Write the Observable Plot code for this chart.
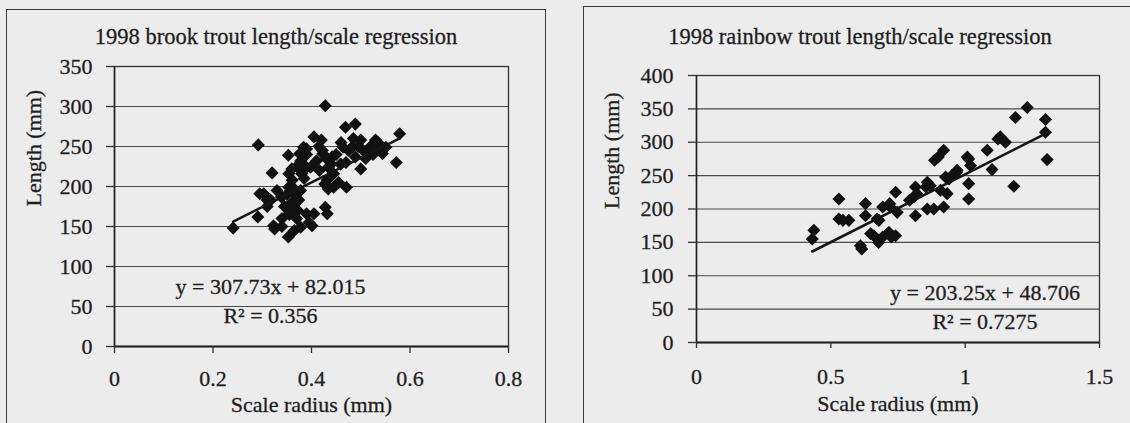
<!DOCTYPE html>
<html>
<head>
<meta charset="utf-8">
<script src="https://cdn.jsdelivr.net/npm/d3@7"></script>
<script src="https://cdn.jsdelivr.net/npm/@observablehq/plot@0.6"></script>
<style>
  html, body { margin: 0; padding: 0; background: #ececec; }
  body {
    width: 1130px; height: 423px; overflow: hidden; position: relative;
    font-family: "Liberation Serif", "Times New Roman", serif; color: #1e1e1e;
  }
  .frame { position: absolute; border: 1.5px solid #3a3a3a; box-sizing: border-box; }
  .title {
    position: absolute; text-align: center; font-size: 22.5px; line-height: 1;
    white-space: nowrap; -webkit-text-stroke: 0.3px #1e1e1e;
  }
  .chart { position: absolute; }
  .chart svg { display: block; }
  .chart svg text { stroke: #1e1e1e; stroke-width: 0.3px; }
</style>
</head>
<body>
<div class="frame" style="left:6px; top:9px; width:540px; height:440px;"></div>
<div class="title" style="left:6px; top:26px; width:540px;">1998 brook trout length/scale regression</div>
<div class="chart" id="brook" style="left:7px; top:10px;"></div>

<div class="frame" style="left:583px; top:6px; width:554px; height:440px;"></div>
<div class="title" style="left:583px; top:26px; width:554px;">1998 rainbow trout length/scale regression</div>
<div class="chart" id="rainbow" style="left:584px; top:7px;"></div>

<script>
// Brook trout: scale radius (mm) and fork length (mm)
const brookRadius = [
  0.428, 0.292, 0.241, 0.291, 0.320, 0.353, 0.353, 0.405, 0.469, 0.303,
  0.317, 0.323, 0.340, 0.378, 0.401, 0.405, 0.428, 0.432, 0.361, 0.374,
  0.372, 0.378, 0.384, 0.378, 0.398, 0.422, 0.432, 0.445, 0.459, 0.579,
  0.572, 0.489, 0.500, 0.471, 0.537, 0.515, 0.500, 0.530, 0.482, 0.464,
  0.489, 0.434, 0.442, 0.423, 0.420, 0.427, 0.434, 0.390, 0.325, 0.376,
  0.390, 0.295, 0.310, 0.354, 0.354, 0.365, 0.365, 0.354, 0.339, 0.380,
  0.390, 0.445, 0.455, 0.416, 0.551, 0.544, 0.360, 0.370, 0.345, 0.350,
  0.360, 0.385, 0.390, 0.410, 0.440, 0.450, 0.460, 0.475, 0.485, 0.495,
  0.505, 0.520, 0.525, 0.535, 0.540, 0.510, 0.470, 0.430, 0.415, 0.370,
  0.360, 0.355, 0.340, 0.330, 0.310, 0.395, 0.365
];
const brookLength = [
  301, 252, 148, 162, 217, 137, 239, 262, 274, 191,
  183, 151, 160, 149, 151, 166, 174, 166, 208, 183,
  170, 195, 249, 232, 224, 245, 208, 199, 228, 266,
  230, 278, 222, 199, 249, 241, 258, 258, 249, 249,
  237, 224, 237, 241, 258, 203, 197, 166, 147, 241,
  247, 191, 183, 216, 199, 191, 174, 166, 187, 216,
  224, 216, 205, 220, 249, 241, 180, 160, 175, 190,
  200, 210, 240, 232, 228, 240, 255, 245, 260, 250,
  245, 250, 240, 255, 245, 235, 230, 235, 250, 225,
  222, 165, 150, 195, 175, 155, 145
];

// Rainbow trout: scale radius (mm) and fork length (mm)
const rainbowRadius = [
  1.231, 1.187, 1.299, 1.299, 1.305, 1.181, 1.131, 1.150, 1.082, 1.100,
  1.013, 1.020, 1.013, 1.013, 0.970, 0.927, 0.920, 0.886, 0.933, 0.908,
  0.920, 0.883, 0.859, 0.859, 0.815, 0.809, 0.815, 0.741, 0.722, 0.747,
  0.672, 0.629, 0.629, 0.648, 0.678, 0.716, 0.741, 0.610, 0.530, 0.530,
  0.567, 0.437, 0.431, 0.793, 0.820, 0.854, 0.870, 0.719, 0.693, 0.679,
  0.660, 0.693, 0.725, 0.615, 0.545, 0.900, 1.122, 1.008, 0.968, 0.950,
  0.940
];
const rainbowLength = [
  352, 337, 334, 315, 274, 234, 308, 300, 288, 259,
  275, 265, 238, 215, 258, 248, 288, 273, 223, 228,
  203, 200, 200, 240, 233, 218, 190, 225, 203, 195,
  185, 208, 190, 163, 150, 165, 160, 145, 215, 185,
  183, 168, 155, 213, 223, 233, 235, 208, 203, 183,
  160, 158, 158, 140, 183, 278, 305, 278, 255, 250,
  245
];

// Axis ticks and their printed labels
const brookXTicks = [0, 0.2, 0.4, 0.6, 0.8];
const brookXTickLabels = ["0", "0.2", "0.4", "0.6", "0.8"];
const brookYTicks = [0, 50, 100, 150, 200, 250, 300, 350];
const rainbowXTicks = [0, 0.5, 1, 1.5];
const rainbowXTickLabels = ["0", "0.5", "1", "1.5"];
const rainbowYTicks = [0, 50, 100, 150, 200, 250, 300, 350, 400];

// Least-squares trend lines as reported on each chart
const brookFit = {slope: 307.73, intercept: 82.015, r2: "0.356"};
const rainbowFit = {slope: 203.25, intercept: 48.706, r2: "0.7275"};

const xLabel = "Scale radius (mm)";
const yLabel = "Length (mm)";

function regressionPanel(cfg) {
  const pts = cfg.radius.map((r, i) => ({radius: r, length: cfg.length[i]}));
  const [x0, x1] = d3.extent(cfg.radius);
  const trend = [x0, x1].map(r => ({radius: r, length: cfg.fit.slope * r + cfg.fit.intercept}));
  const eq = `y = ${cfg.fit.slope}x + ${cfg.fit.intercept}\nR² = ${cfg.fit.r2}`;
  const xFmt = v => cfg.xTickLabels[cfg.xTicks.indexOf(v)];
  return Plot.plot({
    width: cfg.width,
    height: cfg.height,
    marginLeft: cfg.ml,
    marginRight: cfg.mr,
    marginTop: cfg.mt,
    marginBottom: cfg.mb,
    style: {
      "background": "transparent",
      "font-family": "'Liberation Serif', 'Times New Roman', serif",
      "font-size": "22px",
      "color": "#1e1e1e",
      "overflow": "visible"
    },
    x: {domain: cfg.xDomain},
    y: {domain: cfg.yDomain},
    marks: [
      Plot.gridY(cfg.yTicks, {stroke: "#4a4a4a", strokeOpacity: 1, strokeWidth: 1.2}),
      Plot.frame({stroke: "#333", strokeWidth: 1.3}),
      Plot.ruleY([cfg.yDomain[0]], {stroke: "#222", strokeWidth: 2}),
      Plot.ruleX([cfg.xDomain[0]], {stroke: "#222", strokeWidth: 1.5}),
      Plot.axisY(cfg.yTicks, {tickSize: 8, tickPadding: cfg.yPad, label: null, stroke: "#333", strokeWidth: 1.3, fontSize: 22}),
      Plot.axisX(cfg.xTicks, {tickSize: cfg.xTick, tickPadding: cfg.xPad, label: null, stroke: "#333", strokeWidth: 1.3, fontSize: 22, tickFormat: xFmt}),
      Plot.dot(pts, {x: "radius", y: "length", symbol: "diamond2", r: 5.9, fill: "#111", stroke: "none"}),
      Plot.line(trend, {x: "radius", y: "length", stroke: "#151515", strokeWidth: 2.6}),
      Plot.text([eq], {frameAnchor: "bottom", lineAnchor: "middle", dx: cfg.eqDx, dy: cfg.eqDy, lineHeight: 1.33, fill: "#1e1e1e", fontSize: 22}),
      Plot.text([xLabel], {frameAnchor: "bottom", lineAnchor: "middle", dy: cfg.xLabelDy, fill: "#1e1e1e", fontSize: 22}),
      Plot.text([yLabel], {frameAnchor: "left", lineAnchor: "middle", rotate: -90, dx: cfg.yLabelDx, fill: "#1e1e1e", fontSize: 22})
    ]
  });
}

document.getElementById("brook").append(regressionPanel({
  radius: brookRadius, length: brookLength, fit: brookFit,
  xDomain: [0, 0.8], yDomain: [0, 350], xTicks: brookXTicks, xTickLabels: brookXTickLabels, yTicks: brookYTicks,
  width: 538, height: 413, ml: 107, mr: 37, mt: 56, mb: 77,
  yPad: 14, xTick: 7, xPad: 17, eqDx: -41, eqDy: -47, xLabelDy: 58, yLabelDx: -81
}));

document.getElementById("rainbow").append(regressionPanel({
  radius: rainbowRadius, length: rainbowLength, fit: rainbowFit,
  xDomain: [0, 1.5], yDomain: [0, 400], xTicks: rainbowXTicks, xTickLabels: rainbowXTickLabels, yTicks: rainbowYTicks,
  width: 546, height: 416, ml: 112, mr: 31, mt: 68, mb: 81,
  yPad: 15, xTick: 6, xPad: 20, eqDx: 87, eqDy: -37, xLabelDy: 61, yLabelDx: -85
}));
</script>
</body>
</html>
